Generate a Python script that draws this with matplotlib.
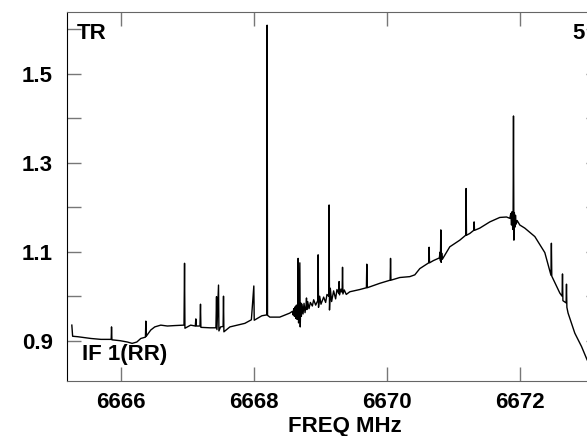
import matplotlib
matplotlib.use("Agg")
import matplotlib.pyplot as plt

plt.rcParams["font.family"] = ["Liberation Sans", "DejaVu Sans"]
plt.rcParams["font.weight"] = "bold"

# spectrum (MHz, flux)
freq = [
    6665.263, 6665.275, 6665.35, 6665.45, 6665.55, 6665.70, 6665.855, 6665.860,
    6665.866, 6665.99, 6666.10, 6666.17, 6666.24, 6666.30, 6666.37, 6666.376,
    6666.382, 6666.45, 6666.51, 6666.60, 6666.70, 6666.81, 6666.95, 6666.958,
    6666.964, 6667.05, 6667.12, 6667.128, 6667.134, 6667.19, 6667.198, 6667.204,
    6667.34, 6667.43, 6667.439, 6667.445, 6667.469, 6667.475, 6667.50, 6667.538,
    6667.544, 6667.550, 6667.64, 6667.75, 6667.865, 6667.963, 6668.000, 6668.006,
    6668.12, 6668.194, 6668.200, 6668.206, 6668.241, 6668.39, 6668.54, 6668.58,
    6668.59, 6668.60, 6668.61, 6668.62, 6668.63, 6668.64, 6668.65,
    6668.660, 6668.666, 6668.672, 6668.692, 6668.698, 6668.705, 6668.715, 6668.725,
    6668.74, 6668.755, 6668.77, 6668.786, 6668.792, 6668.798, 6668.81, 6668.83,
    6668.85, 6668.88, 6668.90, 6668.93, 6668.961, 6668.967, 6668.973, 6668.99,
    6669.01, 6669.05, 6669.08, 6669.10, 6669.126, 6669.132, 6669.138, 6669.15,
    6669.17, 6669.20, 6669.23, 6669.25, 6669.277, 6669.283, 6669.289, 6669.31,
    6669.328, 6669.334, 6669.340, 6669.36, 6669.39,
    6669.444, 6669.594, 6669.693, 6669.699, 6669.705, 6669.744, 6669.895, 6670.050,
    6670.056, 6670.062, 6670.195, 6670.346, 6670.421, 6670.496, 6670.630, 6670.636,
    6670.642, 6670.70, 6670.79, 6670.800, 6670.806, 6670.812, 6670.818, 6670.825,
    6670.835, 6670.947, 6671.098, 6671.186,
    6671.192, 6671.198, 6671.248, 6671.307, 6671.313, 6671.319, 6671.398, 6671.549,
    6671.699, 6671.80, 6671.850, 6671.865, 6671.875, 6671.885, 6671.893, 6671.899,
    6671.905, 6671.911, 6671.918, 6671.925, 6671.935, 6671.945, 6671.96, 6672.000,
    6672.075, 6672.226, 6672.376, 6672.469, 6672.475, 6672.481, 6672.602, 6672.636,
    6672.642, 6672.648, 6672.696, 6672.702, 6672.708, 6672.726, 6672.827, 6672.928,
    6673.012, 6673.10, 6673.20,
]
flux = [
    0.935, 0.910, 0.909, 0.907, 0.905, 0.903, 0.903, 0.931,
    0.902, 0.900, 0.897, 0.894, 0.897, 0.905, 0.908, 0.944,
    0.910, 0.924, 0.931, 0.935, 0.933, 0.934, 0.935, 1.074,
    0.928, 0.935, 0.933, 0.949, 0.933, 0.933, 0.982, 0.930,
    0.929, 0.929, 0.999, 0.925, 1.025, 0.922, 0.931, 0.932,
    1.000, 0.920, 0.931, 0.935, 0.939, 0.947, 1.023, 0.946,
    0.956, 0.958, 1.609, 0.957, 0.953, 0.953, 0.962, 0.966,
    0.958, 0.972, 0.955, 0.976, 0.950, 0.980, 0.948,
    0.960, 1.085, 0.940, 1.075, 0.931, 0.985, 0.955, 0.982,
    0.960, 0.984, 0.963, 0.980, 0.996, 0.970, 0.988, 0.972,
    0.986, 0.978, 0.992, 0.980, 0.990, 1.093, 0.975, 1.000,
    0.982, 0.998, 0.986, 1.004, 1.000, 1.205, 0.969, 1.018,
    0.988, 1.012, 0.994, 1.015, 1.006, 1.033, 1.003, 1.016,
    1.009, 1.065, 1.005, 1.014, 1.004,
    1.010, 1.015, 1.019, 1.072, 1.019, 1.021, 1.029, 1.036,
    1.085, 1.036, 1.042, 1.044, 1.048, 1.062, 1.075, 1.110,
    1.075, 1.080, 1.086, 1.099, 1.080, 1.149, 1.076, 1.097,
    1.083, 1.111, 1.126, 1.137,
    1.242, 1.137, 1.141, 1.148, 1.167, 1.148, 1.153, 1.167,
    1.177, 1.178, 1.175, 1.186, 1.160, 1.190, 1.150, 1.172,
    1.405, 1.126, 1.188, 1.155, 1.182, 1.162, 1.170, 1.160,
    1.153, 1.134, 1.098, 1.047, 1.119, 1.045, 1.007, 1.000,
    1.050, 0.990, 0.985, 1.027, 0.975, 0.962, 0.917, 0.887,
    0.857, 0.835, 0.812,
]

x_ticks = [6666, 6668, 6670, 6672]
y_ticks = [0.9, 1.0, 1.1, 1.2, 1.3, 1.4, 1.5, 1.6]
y_labels = ["0.9", "", "1.1", "", "1.3", "", "1.5", ""]

fig = plt.figure(figsize=(5.87, 4.36), dpi=100)
ax = fig.add_axes([0.1141, 0.1261, 0.9085, 0.8464])

ax.plot(freq, flux, color="black", lw=1.0)

ax.set_xlim(6665.19, 6673.21)
ax.set_ylim(0.8094, 1.6387)
ax.set_xticks(x_ticks)
ax.set_xticklabels([str(t) for t in x_ticks])
ax.set_yticks(y_ticks)
ax.set_yticklabels(y_labels)

ax.tick_params(direction="in", length=10, width=1, color="#777777",
               top=True, right=True, labelsize=16, pad=8)
ax.tick_params(axis="y", pad=10)
for side in ["top", "bottom", "right"]:
    ax.spines[side].set_color("#666666")
ax.spines["left"].set_color("black")
for lab in ax.get_xticklabels() + ax.get_yticklabels():
    lab.set_fontweight("bold")

fig.text(0.4906, 0.0092, "FREQ MHz", fontsize=16, weight="bold",
         ha="left", va="baseline")
fig.text(0.1312, 0.9106, "TR", fontsize=16, weight="bold",
         ha="left", va="baseline")
fig.text(0.9744, 0.9106, "5", fontsize=16, weight="bold",
         ha="left", va="baseline")
fig.text(0.1397, 0.1732, "IF 1(RR)", fontsize=16, weight="bold",
         ha="left", va="baseline")

fig.savefig("out.png", dpi=100)
